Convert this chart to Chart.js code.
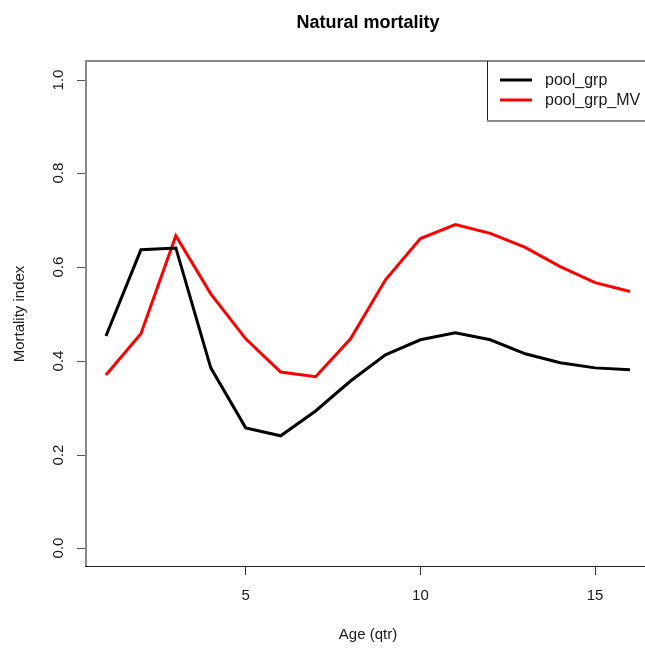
<!DOCTYPE html>
<html>
<head>
<meta charset="utf-8">
<script src="https://cdn.jsdelivr.net/npm/chart.js@4/dist/chart.umd.min.js"></script>
<style>
	html, body { margin: 0; padding: 0; background: #fff; overflow: hidden; }
	#wrap { width: 645px; height: 648px; overflow: hidden; }
	canvas { display: block; }
</style>
</head>
<body>
<div id="wrap"><canvas id="chart" width="665" height="648"></canvas></div>
<script>
// quarterly ages and the two mortality index series
const ages = [1, 2, 3, 4, 5, 6, 7, 8, 9, 10, 11, 12, 13, 14, 15, 16];
const poolGrp = [0.453, 0.637, 0.641, 0.385, 0.257, 0.240, 0.293, 0.357, 0.413, 0.445, 0.460, 0.445, 0.415, 0.396, 0.385, 0.381];
const poolGrpMV = [0.370, 0.458, 0.667, 0.543, 0.447, 0.376, 0.366, 0.447, 0.573, 0.661, 0.691, 0.672, 0.642, 0.601, 0.567, 0.548];
const xTicks = [5, 10, 15];
const yTicks = [0, 0.2, 0.4, 0.6, 0.8, 1.0];
const seriesNames = [`pool_grp`, `pool_grp_MV`];

const FONT = `"Liberation Sans", Arial, sans-serif`;
const TEXT = `#1a1a1a`;
const SOFT = `#8a8a8a`;

const toPoints = values => values.map((v, i) => ({x: ages[i], y: v}));

// base-graphics look: box, rotated y labels, titles and the legend
const basePlot = {
	id: `basePlot`,
	afterDraw(chart) {
		const {ctx, chartArea: area, scales} = chart;
		const left = Math.round(area.left);
		const top = Math.round(area.top);
		const right = Math.round(area.right);
		const bottom = Math.round(area.bottom);
		ctx.save();

		// plot box (left and top come out soft, bottom crisp)
		ctx.fillStyle = SOFT;
		ctx.fillRect(left, top - 1, 2, bottom - top + 1);
		ctx.fillRect(left, top - 1, right - left, 2);
		ctx.fillStyle = `#222`;
		ctx.fillRect(left, bottom - 1, right - left, 1);

		// y ticks and rotated labels
		ctx.font = `15px ${FONT}`;
		ctx.textAlign = `center`;
		ctx.textBaseline = `alphabetic`;
		scales.y.ticks.forEach(tick => {
			const py = Math.round(scales.y.getPixelForValue(tick.value));
			ctx.fillStyle = `#555`;
			ctx.fillRect(left - 8, py, 8, 1);
			ctx.fillStyle = TEXT;
			ctx.save();
			ctx.translate(63, py);
			ctx.rotate(-Math.PI / 2);
			ctx.fillText(tick.value.toFixed(1), 0, 0);
			ctx.restore();
		});

		// axis titles
		ctx.fillStyle = TEXT;
		ctx.fillText(`Age (qtr)`, (area.left + area.right) / 2, 639);
		ctx.save();
		ctx.translate(24, (area.top + area.bottom) / 2);
		ctx.rotate(-Math.PI / 2);
		ctx.fillText(`Mortality index`, 0, 0);
		ctx.restore();

		// main title
		ctx.fillStyle = `#000`;
		ctx.font = `bold 18px ${FONT}`;
		ctx.fillText(`Natural mortality`, (area.left + area.right) / 2, 28);

		// legend in the top right corner
		const boxLeft = 487;
		const boxBottom = 121;
		ctx.fillStyle = `#fff`;
		ctx.fillRect(boxLeft + 1, top + 1, right - boxLeft, boxBottom - top - 2);
		ctx.fillStyle = `#222`;
		ctx.fillRect(boxLeft, top, 1, boxBottom - top);
		ctx.fillStyle = SOFT;
		ctx.fillRect(boxLeft, boxBottom - 1, right - boxLeft, 2);
		ctx.font = `16px ${FONT}`;
		ctx.textAlign = `left`;
		ctx.textBaseline = `middle`;
		chart.data.datasets.forEach((ds, i) => {
			const ly = 80 + i * 20;
			ctx.strokeStyle = ds.borderColor;
			ctx.lineWidth = 3;
			ctx.beginPath();
			ctx.moveTo(500, ly);
			ctx.lineTo(532, ly);
			ctx.stroke();
			ctx.fillStyle = TEXT;
			ctx.fillText(ds.label, 545, ly + 1);
		});

		ctx.restore();
	}
};

new Chart(document.getElementById(`chart`), {
	type: `line`,
	data: {
		datasets: [
			{label: seriesNames[0], data: toPoints(poolGrp), borderColor: `#000`, backgroundColor: `#000`},
			{label: seriesNames[1], data: toPoints(poolGrpMV), borderColor: `#ff0000`, backgroundColor: `#ff0000`}
		]
	},
	options: {
		responsive: false,
		animation: false,
		events: [],
		layout: {padding: {top: 61, right: 14, left: 0, bottom: 0}},
		elements: {
			line: {borderWidth: 3, tension: 0},
			point: {radius: 0}
		},
		scales: {
			x: {
				type: `linear`,
				min: 0.4,
				max: 16.6,
				afterBuildTicks: scale => { scale.ticks = xTicks.map(v => ({value: v})); },
				afterFit: scale => { scale.height = 81; },
				grid: {drawOnChartArea: false, tickLength: 8, tickColor: `#333`, tickWidth: 1},
				border: {display: false},
				ticks: {
					color: TEXT,
					font: {family: FONT, size: 15},
					padding: 12,
					maxRotation: 0,
					autoSkip: false
				}
			},
			y: {
				min: -0.04,
				max: 1.04,
				afterBuildTicks: scale => { scale.ticks = yTicks.map(v => ({value: v})); },
				afterFit: scale => { scale.width = 85; },
				grid: {display: false},
				border: {display: false},
				ticks: {display: false}
			}
		},
		plugins: {
			legend: {display: false},
			title: {display: false},
			tooltip: {enabled: false}
		}
	},
	plugins: [basePlot]
});
</script>
</body>
</html>
